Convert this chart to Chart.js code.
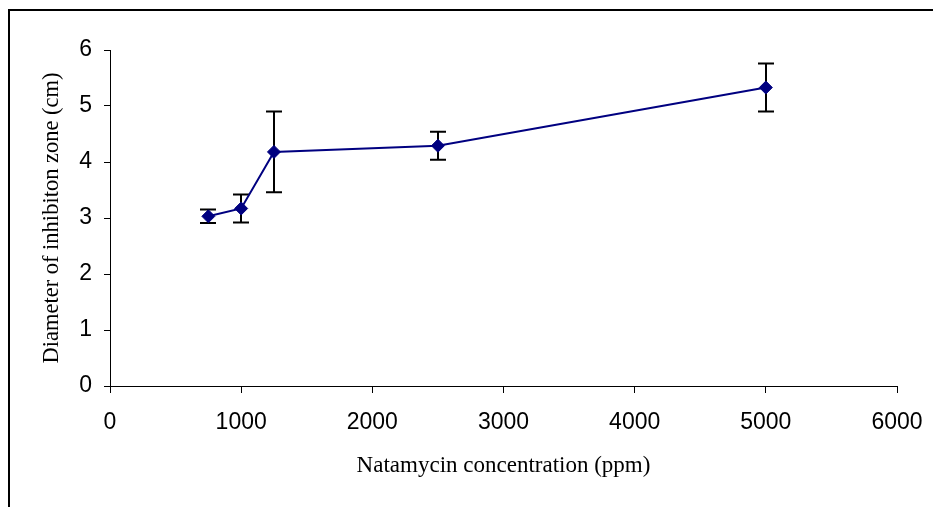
<!DOCTYPE html>
<html>
<head>
<meta charset="utf-8">
<script src="https://cdn.jsdelivr.net/npm/chart.js@4/dist/chart.umd.min.js"></script>
<style>
  html, body { margin: 0; padding: 0; background: #fff; }
  #wrap { position: relative; width: 933px; height: 507px; }
</style>
</head>
<body>
<div id="wrap"><canvas id="c" width="933" height="507"></canvas></div>
<script>
const concentrations = [750, 1000, 1250, 2500, 5000];
const diameters = [3.03, 3.17, 4.18, 4.29, 5.33];
const errors = [0.12, 0.25, 0.72, 0.25, 0.43];
const xTicks = [0, 1000, 2000, 3000, 4000, 5000, 6000];
const yTicks = [0, 1, 2, 3, 4, 5, 6];
const xTitle = 'Natamycin concentration (ppm)';
const yTitle = 'Diameter of inhibiton zone (cm)';

const points = concentrations.map((x, i) => ({ x: x, y: diameters[i] }));

const frame = {
  id: 'frame',
  beforeDraw(chart) {
    const ctx = chart.ctx;
    ctx.save();
    ctx.fillStyle = '#fff';
    ctx.fillRect(0, 0, chart.width, chart.height);
    ctx.strokeStyle = '#000';
    ctx.lineWidth = 2;
    ctx.strokeRect(9, 10, 1200, 1200);
    ctx.restore();
  }
};

const errorBars = {
  id: 'errorBars',
  beforeDatasetsDraw(chart) {
    const ctx = chart.ctx;
    const xs = chart.scales.x, ys = chart.scales.y;
    ctx.save();
    ctx.strokeStyle = '#000';
    ctx.lineWidth = 2;
    concentrations.forEach((c, i) => {
      const px = Math.round(xs.getPixelForValue(c));
      const top = ys.getPixelForValue(diameters[i] + errors[i]);
      const bot = ys.getPixelForValue(diameters[i] - errors[i]);
      ctx.beginPath();
      ctx.moveTo(px, top); ctx.lineTo(px, bot);
      ctx.moveTo(px - 8, top); ctx.lineTo(px + 8, top);
      ctx.moveTo(px - 8, bot); ctx.lineTo(px + 8, bot);
      ctx.stroke();
    });
    ctx.restore();
  }
};

new Chart(document.getElementById('c'), {
  type: 'scatter',
  data: {
    datasets: [{
      data: points,
      showLine: true,
      borderColor: '#000080',
      backgroundColor: '#000080',
      borderWidth: 2,
      pointStyle: 'rectRot',
      pointRadius: 6.5,
      pointBorderWidth: 1,
      pointBorderColor: '#000080',
      pointBackgroundColor: '#000080',
      tension: 0
    }]
  },
  options: {
    responsive: false,
    animation: false,
    devicePixelRatio: 1,
    layout: { padding: { top: 50, right: 36, bottom: 0, left: 0 } },
    plugins: { legend: { display: false }, tooltip: { enabled: false } },
    scales: {
      x: {
        type: 'linear',
        min: 0, max: 6000,
        afterBuildTicks(s) { s.ticks = xTicks.map(v => ({ value: v })); },
        afterFit(s) { s.height = 121; s.paddingRight = 0; s.paddingLeft = 0; },
        ticks: { color: '#000', padding: 16, callback: v => String(v), font: { family: 'Liberation Sans, Arial, sans-serif', size: 23 }, maxRotation: 0 },
        grid: { drawOnChartArea: false, drawTicks: true, tickLength: 7, color: '#000', tickWidth: 1 },
        border: { color: '#000', width: 1 },
        title: { display: true, text: xTitle, color: '#000', padding: { top: 0, bottom: 27 }, font: { family: 'Liberation Serif, Times New Roman, serif', size: 23 } }
      },
      y: {
        type: 'linear',
        min: 0, max: 6,
        afterBuildTicks(s) { s.ticks = yTicks.map(v => ({ value: v })); },
        afterFit(s) { s.width = 110; s.paddingTop = 0; s.paddingBottom = 0; },
        ticks: { color: '#000', padding: 12, callback: v => String(v), font: { family: 'Liberation Sans, Arial, sans-serif', size: 23 } },
        grid: { drawOnChartArea: false, drawTicks: true, tickLength: 6, color: '#000', tickWidth: 1 },
        border: { color: '#000', width: 1 },
        title: { display: true, text: yTitle, color: '#000', padding: { top: 39, bottom: 0 }, font: { family: 'Liberation Serif, Times New Roman, serif', size: 22.5 } }
      }
    }
  },
  plugins: [frame, errorBars]
});
</script>
</body>
</html>
